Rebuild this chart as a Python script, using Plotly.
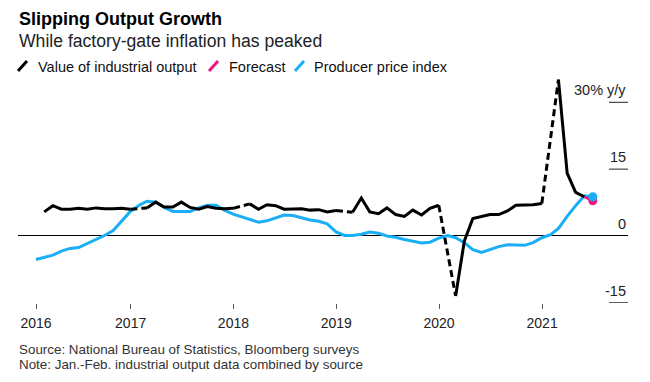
import pandas as pd
import plotly.graph_objects as go

# ---------------- data ----------------
ppi_start = "2016-01-31"
ppi_values = [
    -5.3, -4.9, -4.3, -3.4, -2.8, -2.6, -1.7, -0.8, 0.1, 1.2, 3.3, 5.5,   # 2016
    6.9, 7.8, 7.6, 6.4, 5.5, 5.5, 5.5, 6.3, 6.9, 6.9, 5.8, 4.9,           # 2017
    4.3, 3.7, 3.1, 3.4, 4.1, 4.7, 4.6, 4.1, 3.6, 3.3, 2.7, 0.9,           # 2018
    0.1, 0.1, 0.4, 0.9, 0.6, 0.0, -0.3, -0.8, -1.2, -1.6, -1.4, -0.5,     # 2019
    0.1, -0.4, -1.5, -3.1, -3.7, -3.0, -2.4, -2.0, -2.1, -2.1, -1.5, -0.4,  # 2020
    0.3, 1.7, 4.4, 6.8, 9.0, 8.8,                                          # 2021
]

io_start = "2016-01-31"
# January values are not published separately (Jan.-Feb. combined, shown at Feb.)
io_values = [
    None, 5.4, 6.8, 6.0, 6.0, 6.2, 6.0, 6.3, 6.1, 6.1, 6.2, 6.0,          # 2016
    None, 6.3, 7.6, 6.5, 6.5, 7.6, 6.4, 6.0, 6.6, 6.2, 6.1, 6.2,          # 2017
    None, 7.2, 6.0, 7.0, 6.8, 6.0, 6.0, 6.1, 5.8, 5.9, 5.4, 5.7,          # 2018
    None, 5.3, 8.5, 5.4, 5.0, 6.3, 4.8, 4.4, 5.8, 4.7, 6.2, 6.9,          # 2019
    None, -13.5, -1.1, 3.9, 4.4, 4.8, 4.8, 5.6, 6.9, 6.9, 7.0, 7.3,       # 2020
    None, 35.1, 14.1, 9.8, 8.8,                                            # 2021
]

forecast_dates = ["2021-05-31", "2021-06-30"]
forecast_values = [8.8, 7.9]

xtick_dates = ["2016-01-31", "2017-01-01", "2018-01-01", "2019-01-01", "2020-01-01", "2021-01-01"]
xtick_labels = ["2016", "2017", "2018", "2019", "2020", "2021"]

ytick_values = [30, 15, 0, -15]
ytick_labels = ["30% y/y", "15", "0", "-15"]

title = "Slipping Output Growth"
subtitle = "While factory-gate inflation has peaked"
legend_names = ["Value of industrial output", "Forecast", "Producer price index"]
notes = ["Source: National Bureau of Statistics, Bloomberg surveys",
         "Note: Jan.-Feb. industrial output data combined by source"]

# ---------------- styling ----------------
BLACK = "#000000"
PINK = "#f0157f"
BLUE = "#19aef5"
FONT = "Liberation Sans, Arial, sans-serif"

W, H = 650, 382
ML, MR, MT, MB = 18, 22, 75, 79
PW, PH = W - ML - MR, H - MT - MB


def px(x):
    return (x - ML) / PW


def py(y):
    return (H - MB - y) / PH


month_end = pd.offsets.MonthEnd()
ppi_dates = pd.date_range(ppi_start, periods=len(ppi_values), freq=month_end)
io_dates = pd.date_range(io_start, periods=len(io_values), freq=month_end)

# dashed connectors across the combined Jan.-Feb. gaps
dash_x, dash_y = [], []
for i, v in enumerate(io_values):
    if v is None and 0 < i < len(io_values) - 1:
        dash_x += [io_dates[i - 1], io_dates[i + 1], None]
        dash_y += [io_values[i - 1], io_values[i + 1], None]

fig = go.Figure()
fig.add_trace(go.Scatter(x=ppi_dates, y=ppi_values, mode="lines",
                         line=dict(color=BLUE, width=3), connectgaps=False))
fig.add_trace(go.Scatter(x=dash_x, y=dash_y, mode="lines",
                         line=dict(color=BLACK, width=3, dash="7px,4px")))
fig.add_trace(go.Scatter(x=io_dates, y=io_values, mode="lines",
                         line=dict(color=BLACK, width=3), connectgaps=False))
fig.add_trace(go.Scatter(x=forecast_dates, y=forecast_values, mode="lines",
                         line=dict(color=PINK, width=3)))
fig.add_trace(go.Scatter(x=[forecast_dates[-1]], y=[forecast_values[-1]], mode="markers",
                         marker=dict(color=PINK, size=9)))
fig.add_trace(go.Scatter(x=[ppi_dates[-1]], y=[ppi_values[-1]], mode="markers",
                         marker=dict(color=BLUE, size=9)))

fig.update_layout(
    width=W, height=H, autosize=False,
    margin=dict(l=ML, r=MR, t=MT, b=MB),
    paper_bgcolor="white", plot_bgcolor="white",
    showlegend=False,
    font=dict(family=FONT, color="#222"),
    xaxis=dict(type="date", range=["2015-11-28", "2021-11-02"],
               tickvals=xtick_dates, ticktext=xtick_labels,
               ticks="outside", ticklen=5, tickwidth=1, tickcolor="#555",
               ticklabelstandoff=2,
               showgrid=False, showline=False, zeroline=False,
               tickfont=dict(size=14, color="#222", family=FONT)),
    yaxis=dict(range=[-15.05, 36.13], showticklabels=False, showgrid=False,
               zeroline=True, zerolinecolor="#000", zerolinewidth=1,
               ticks=""),
)

shapes = []
annotations = []
for v, t in zip(ytick_values, ytick_labels):
    if v != 0:
        shapes.append(dict(type="line", xref="paper", yref="y",
                           x0=px(609), x1=1.0, y0=v, y1=v,
                           line=dict(color="#222", width=1)))
    annotations.append(dict(text=t, xref="paper", yref="y", x=1.0, y=v,
                            xanchor="right", yanchor="bottom", yshift=2,
                            showarrow=False,
                            font=dict(size=14.5, color="#222", family=FONT)))

# titles
annotations.append(dict(text="<b>" + title + "</b>", xref="paper", yref="paper",
                        x=px(17), y=py(19.5), xanchor="left", yanchor="middle",
                        showarrow=False, font=dict(size=18, color="#000", family=FONT)))
annotations.append(dict(text=subtitle, xref="paper", yref="paper",
                        x=px(17), y=py(41), xanchor="left", yanchor="middle",
                        showarrow=False, font=dict(size=17.6, color="#222", family=FONT)))

# legend
legend_items = [(legend_names[0], BLACK, 18, 37),
                (legend_names[1], PINK, 209, 228),
                (legend_names[2], BLUE, 295, 313)]
for name, col, ix, tx in legend_items:
    shapes.append(dict(type="line", xref="paper", yref="paper",
                       x0=px(ix), y0=py(71), x1=px(ix + 9), y1=py(61),
                       line=dict(color=col, width=3)))
    annotations.append(dict(text=name, xref="paper", yref="paper",
                            x=px(tx - 1), y=py(66.5), xanchor="left", yanchor="middle",
                            showarrow=False, font=dict(size=14.5, color="#111", family=FONT)))

# footnotes
for i, n in enumerate(notes):
    annotations.append(dict(text=n, xref="paper", yref="paper",
                            x=px(17), y=py(349 + 15 * i), xanchor="left", yanchor="middle",
                            showarrow=False, font=dict(size=13.4, color="#333", family=FONT)))

fig.update_layout(shapes=shapes, annotations=annotations)
fig.write_html("out.html", config={"displayModeBar": False, "staticPlot": True},
               post_script="document.body.style.margin='0';")
